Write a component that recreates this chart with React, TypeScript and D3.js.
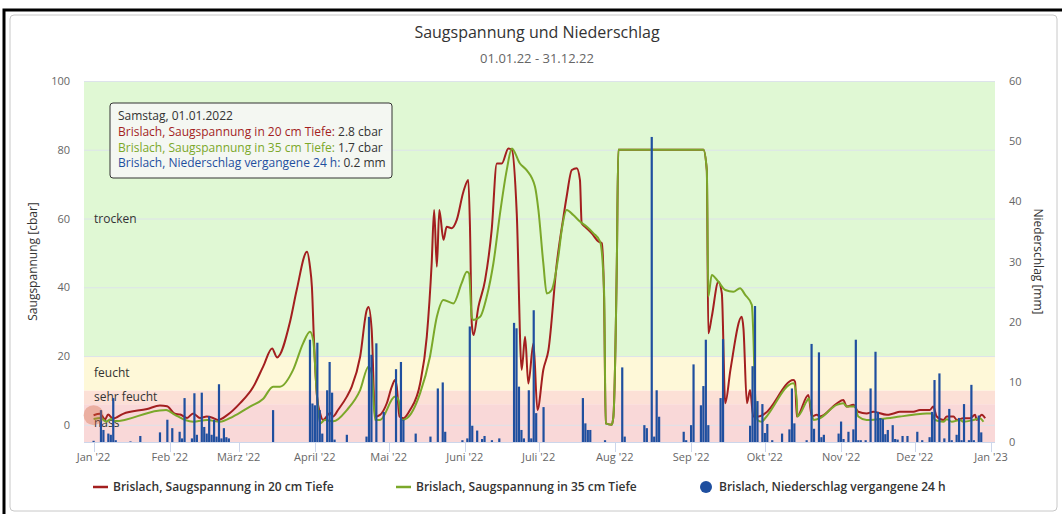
import { useEffect, useRef } from 'react';
import * as d3 from 'd3';

// day offsets from 01.01.2022, values in cbar
const suction20cm: [number, number][] = [
  [0, 2.8], [2.6, 3.2], [4.7, 1.6], [5.9, 3.0], [7.9, 1.8], [12, 3.2], [21.8, 4.6], [27, 5.6],
  [29.9, 5.4], [33.1, 3.2], [35.2, 3.0], [38, 2.0], [40.5, 3.3], [43.3, 2.0], [46, 2.4],
  [48.6, 2.0], [50.6, 1.4], [54.3, 2.8], [59.6, 6.3], [64.9, 11], [69, 17], [72.6, 22.2],
  [74.6, 19.6], [79.9, 30], [82.6, 39.2], [86.8, 50.3], [88, 46], [88.8, 40], [89.6, 25],
  [90.9, 8], [92.1, 3.4], [93.3, 1.4], [96.2, 3.4], [97.4, 2.4], [99.4, 4.3], [103, 8.2],
  [105, 11.1], [108.4, 19.8], [111.1, 33.4], [111.8, 34.3], [113.1, 27.6], [114.5, 2.4],
  [116.5, 2.9], [119.2, 6.2], [121.3, 11.1], [122.6, 13], [123.3, 11.1], [124.4, 2.4],
  [126, 1.9], [128.7, 4.3], [132.8, 12], [135.5, 25.6], [137.5, 47], [138.5, 62.5],
  [139.6, 46], [140.6, 62.5], [142.3, 53.8], [143.6, 57.6], [145.7, 57.2], [147.7, 59.6],
  [150.4, 67.8], [152.4, 71.2], [153.1, 56.7], [153.8, 29.5], [154.5, 26.1], [156.5, 34.3],
  [159.2, 42], [161.9, 56.7], [164, 76], [166, 76], [168.7, 80.4], [170.1, 80], [172.1, 61.5],
  [174.1, 16], [175.5, 25.6], [176.8, 12], [178.9, 23.7], [180.5, 4.3], [182.9, 16], [185, 21.8],
  [188.4, 47], [191.1, 60.5], [192.4, 66.4], [194.5, 74.1], [196.5, 74.6], [197.8, 71.2],
  [198.5, 58.6], [199.9, 57.6], [202.6, 55.7], [205.3, 53.3], [206.7, 52.8], [207.6, 37.3],
  [208.3, 0.4], [210.7, 0], [211.4, 2.4], [212.8, 47], [213.4, 80], [248, 80], [249.4, 74],
  [250, 26.6], [251.4, 31.4], [254.1, 41.6], [255.5, 38.2], [256.9, 6.3], [259, 16],
  [263.6, 31.4], [264.3, 28], [265.7, 6.3], [267, 10.1], [268.3, 2.4], [270.4, 2.4],
  [273.1, 3.3], [284.6, 13], [285.3, 12.5], [286, 2.4], [290.7, 8.7], [292.1, 2.4],
  [294.1, 2.9], [295.4, 2.4], [302.2, 6.2], [304.9, 7.2], [306.3, 5.3], [309, 5.8], [311, 3.8],
  [314.4, 3.3], [317.1, 3.8], [322.6, 2.9], [325.3, 3.3], [327.9, 3.8], [333.4, 3.8],
  [336.1, 4.3], [340.1, 4.3], [341.5, 5.3], [342.9, 2.4], [345.6, 1.4], [347, 2.4],
  [349.7, 2.4], [351.1, 1.4], [353.7, 1.9], [356.5, 1.9], [358.5, 2.9], [359.2, 1.4],
  [361.2, 2.9], [362.6, 1.9],
];

const suction35cm: [number, number][] = [
  [0, 1.7], [3, 2.0], [5.1, 0.9], [7.1, 1.7], [8.6, 1.0], [26.2, 4.1], [29.5, 4.3], [33.1, 2.9],
  [37.2, 1.4], [40.5, 0.9], [46.2, 1.4], [51.4, 0.9], [56.7, 2.4], [63.6, 5.3], [68.9, 7.5],
  [73, 11.1], [75.8, 11.1], [81.1, 15.9], [85.2, 23.7], [88, 27.1], [89.3, 24.7], [90.8, 9],
  [92.1, 0.4], [94.1, 1.4], [97.5, 1.0], [103, 4.3], [108.4, 10.1], [111.8, 16.9], [113.1, 15],
  [114.5, 1.4], [116.5, 1.4], [122.6, 8.2], [124, 7.2], [125.3, 1.4], [127.4, 1.9], [132.8, 9.2],
  [136.8, 19.8], [139.6, 31.4], [142.3, 36.3], [146.3, 35.3], [149.7, 41.2], [151.8, 44.5],
  [152.7, 44], [153.8, 31.4], [154.5, 30.5], [157.2, 31.4], [159.9, 37.3], [162.6, 47],
  [165.3, 61.5], [168, 74], [170.1, 80.4], [173.4, 76], [176.2, 74], [179.5, 69.3], [180.9, 62.5],
  [182.9, 47], [184.3, 38.2], [186.3, 39.2], [189, 48.9], [190.4, 56.7], [192.4, 62.5],
  [195.1, 61], [197.8, 59.1], [200.6, 57.6], [203.3, 55.7], [206, 53.3], [207.6, 39.2],
  [208.3, 0.4], [210.7, 0], [211.4, 2.4], [212.8, 47], [213.4, 80], [248, 80], [249.4, 74],
  [250, 37.3], [251.4, 43.6], [254.1, 41.6], [256.9, 39.2], [260.2, 38.7], [262.9, 39.7],
  [265, 37.8], [267.7, 34.9], [268.3, 26.6], [269, 9.2], [270, 1.4], [271.8, 0.9], [273.1, 1.9],
  [284.6, 12.1], [286, 7.2], [286.2, 2.4], [290.3, 7.2], [290.9, 7.7], [292.8, 1.4], [295.4, 1.9],
  [302.2, 5.8], [304.9, 6.3], [306.3, 5.3], [309.7, 5.3], [311, 2.4], [314.4, 1.4], [322.6, 1.9],
  [327.9, 2.4], [333.4, 2.9], [338.8, 3.3], [340.9, 3.3], [342.2, 1.4], [345.6, 0.9], [347, 1.6],
  [349, 0.9], [352.4, 1.4], [353.7, 0.9], [357.8, 1.4], [360.4, 1.9], [361.9, 0.9],
];

// rain per day in mm
const rainDays = [
  0, 3, 4, 6, 7, 8, 9, 15, 19, 27, 30, 32, 35, 36, 37, 40, 41, 42, 44, 45, 46, 47, 48, 49, 50, 51,
  52, 53, 54, 55, 73, 88, 89, 90, 91, 92, 93, 95, 96, 97, 98, 103, 111, 112, 113, 115, 118, 123,
  125, 126, 131, 137, 140, 142, 143, 150, 152, 153, 154, 156, 158, 159, 162, 165, 171, 172, 173,
  174, 175, 177, 178, 179, 180, 183, 199, 200, 201, 202, 208, 215, 216, 224, 225, 227, 228, 229,
  230, 240, 241, 243, 244, 247, 248, 249, 250, 255, 256, 267, 268, 269, 270, 272, 273, 274, 276,
  280, 283, 284, 285, 290, 292, 293, 295, 296, 297, 303, 304, 305, 307, 309, 310, 311, 312, 314,
  316, 318, 319, 320, 321, 322, 323, 325, 326, 327, 329, 331, 335, 337, 340, 341, 342, 344, 346,
  348, 349, 351, 352, 353, 354, 356, 357, 358, 360, 361,
];
const rainMm = [
  0.2, 5.3, 2.0, 1.4, 1.2, 7.3, 0.3, 0.1, 1.0, 1.6, 3.7, 2.3, 1.7, 0.6, 7.3, 0.6, 8.1, 1.2, 8.2,
  2.5, 1.4, 4.3, 1.2, 3.7, 0.9, 9.6, 0.6, 2.3, 0.8, 0.6, 5.3, 17, 6.4, 6.1, 16.5, 5.3, 1.4, 8.6,
  13.3, 8.2, 0.4, 1.2, 0.9, 20.8, 14.5, 16.4, 5, 12.1, 13.3, 3.7, 1.4, 0.9, 8.9, 9.9, 1.7, 0.3,
  0.6, 19.2, 2.7, 1.9, 0.5, 1.0, 0.3, 0.6, 19.8, 18.9, 9.2, 2, 0.6, 8.6, 0.6, 21.9, 4.8, 5.8, 7.3,
  3.1, 2, 2, 0.3, 12.4, 0.9, 2.8, 2.3, 50.7, 0.9, 8.6, 4.2, 1.7, 0.3, 2.8, 12.9, 6.1, 9.3, 17, 2.8,
  7.3, 17.1, 2.7, 12.6, 22.6, 6.8, 6.3, 1.5, 3, 0.3, 1.4, 2.1, 8.9, 3.1, 0.3, 16.3, 2.2, 14.9, 0.8,
  1.2, 1.4, 3.4, 0.5, 1.7, 2.1, 17, 0.3, 0.3, 0.3, 8.9, 15, 5, 4, 3.8, 1.3, 2, 2.8, 0.5, 0.4, 1.0,
  1.0, 1.7, 0.3, 0.8, 5, 10.3, 11.4, 0.6, 5.5, 0.3, 1.2, 4, 0.3, 6.3, 0.3, 9.5, 0.3, 4.4, 1.6,
];

const monthStartDays = [0, 31, 59, 90, 120, 151, 181, 212, 243, 273, 304, 334, 365];
const monthLabels = ["Jan '22", "Feb '22", "März '22", "April '22", "Mai '22", "Juni '22", "Juli '22", "Aug '22", "Sep '22", "Okt '22", "Nov '22", "Dez '22", "Jan '23"];
const leftTicks = [0, 20, 40, 60, 80, 100];
const rightTicks = [0, 10, 20, 30, 40, 50, 60];
const bandNames = ['nass', 'sehr feucht', 'feucht', 'trocken'];
const bandLimits = [-5, 6, 10, 20, 100];
const seriesNames = [
  'Brislach, Saugspannung in 20 cm Tiefe',
  'Brislach, Saugspannung in 35 cm Tiefe',
  'Brislach, Niederschlag vergangene 24 h',
];

const bandColors = ['#f9d8d8', '#fce0d6', '#fef8d8', '#e0f8d4'];
const RED = '#a31f1f';
const GREEN = '#7ba82a';
const BLUE = '#1f4f9f';
const FONT = "'Open Sans', 'DejaVu Sans', sans-serif";

export default function App() {
  const svgRef = useRef<SVGSVGElement>(null);

  useEffect(() => {
    if (!svgRef.current) return;
    const svg = d3.select(svgRef.current);
    svg.selectAll('*').remove();

    const left = 84, right = 995, top = 81, bottom = 442;

    // frame of the screenshot
    svg.append('rect').attr('x', 10).attr('y', 15).attr('width', 1047).attr('height', 496)
      .attr('rx', 4).attr('fill', '#fff').attr('stroke', '#c8c8c8');
    svg.append('path').attr('d', 'M4,514 L4,10 L1062,10').attr('fill', 'none')
      .attr('stroke', '#000').attr('stroke-width', 3);

    const x = d3.scaleLinear().domain([-3.9, 366.6]).range([left, right]);
    const y = d3.scaleLinear().domain([-5, 100]).range([bottom, top]);
    const yRain = d3.scaleLinear().domain([0, 60]).range([bottom, top]);

    // bands
    bandNames.forEach((name, i) => {
      const y0 = y(bandLimits[i + 1]);
      const y1 = y(bandLimits[i]);
      svg.append('rect').attr('x', left).attr('y', y0).attr('width', right - left)
        .attr('height', y1 - y0).attr('fill', bandColors[i]);
    });

    // grid
    svg.append('g').selectAll('line').data(leftTicks).join('line')
      .attr('x1', left).attr('x2', right)
      .attr('y1', d => y(d) + 0.5).attr('y2', d => y(d) + 0.5)
      .attr('stroke', '#dde3ea').attr('stroke-width', 1);

    bandNames.forEach((name, i) => {
      svg.append('text').attr('x', left + 10)
        .attr('y', y((bandLimits[i] + bandLimits[i + 1]) / 2) + 4)
        .attr('font-family', FONT).attr('font-size', 12).attr('fill', '#333')
        .text(name);
    });

    // x axis
    svg.append('line').attr('x1', left).attr('x2', right).attr('y1', bottom + 0.5).attr('y2', bottom + 0.5)
      .attr('stroke', '#ccd6eb');
    const xt = svg.append('g');
    xt.selectAll('line').data(monthStartDays).join('line')
      .attr('x1', d => Math.round(x(d)) + 0.5).attr('x2', d => Math.round(x(d)) + 0.5)
      .attr('y1', bottom).attr('y2', bottom + 10).attr('stroke', '#ccd6eb');
    xt.selectAll('text').data(monthStartDays).join('text')
      .attr('x', d => x(d)).attr('y', bottom + 19).attr('text-anchor', 'middle')
      .attr('font-family', FONT).attr('font-size', 11).attr('fill', '#666')
      .text((_, i) => monthLabels[i]);

    // y axes
    svg.append('g').selectAll('text').data(leftTicks).join('text')
      .attr('x', 70).attr('y', d => y(d) + 4).attr('text-anchor', 'end')
      .attr('font-family', FONT).attr('font-size', 11).attr('fill', '#666')
      .text(d => d);
    svg.append('g').selectAll('text').data(rightTicks).join('text')
      .attr('x', 1009).attr('y', d => yRain(d) + 4).attr('text-anchor', 'start')
      .attr('font-family', FONT).attr('font-size', 11).attr('fill', '#666')
      .text(d => d);
    svg.append('text').attr('transform', `translate(37,${(top + bottom) / 2}) rotate(-90)`)
      .attr('text-anchor', 'middle').attr('font-family', FONT).attr('font-size', 12)
      .attr('fill', '#333').text('Saugspannung [cbar]');
    svg.append('text').attr('transform', `translate(1034,${(top + bottom) / 2}) rotate(90)`)
      .attr('text-anchor', 'middle').attr('font-family', FONT).attr('font-size', 12)
      .attr('fill', '#333').text('Niederschlag [mm]');

    // titles
    svg.append('text').attr('x', 537).attr('y', 38).attr('text-anchor', 'middle')
      .attr('font-family', FONT).attr('font-size', 16).attr('fill', '#333')
      .text('Saugspannung und Niederschlag');
    svg.append('text').attr('x', 537).attr('y', 63).attr('text-anchor', 'middle')
      .attr('font-family', FONT).attr('font-size', 13).attr('fill', '#666')
      .text('01.01.22 - 31.12.22');

    svg.append('clipPath').attr('id', 'plot-clip').append('rect')
      .attr('x', left).attr('y', top).attr('width', right - left).attr('height', bottom - top);
    const plot = svg.append('g').attr('clip-path', 'url(#plot-clip)');

    const line = d3.line<[number, number]>()
      .x(d => x(d[0]))
      .y(d => y(d[1]))
      .curve(d3.curveMonotoneX);

    plot.append('path').datum(suction20cm).attr('fill', 'none').attr('stroke', RED)
      .attr('stroke-width', 2).attr('stroke-linejoin', 'round').attr('d', line);
    plot.append('path').datum(suction35cm).attr('fill', 'none').attr('stroke', GREEN)
      .attr('stroke-width', 2).attr('stroke-linejoin', 'round').attr('d', line);

    // rain columns
    plot.selectAll('rect.rain').data(rainDays).join('rect').attr('class', 'rain')
      .attr('x', d => x(d) - 1.1).attr('width', 2.2)
      .attr('y', (_, i) => yRain(rainMm[i]))
      .attr('height', (_, i) => bottom - yRain(rainMm[i]))
      .attr('fill', BLUE);

    // hover halo
    svg.append('circle').attr('cx', x(0)).attr('cy', y(suction20cm[0][1]))
      .attr('r', 10).attr('fill', '#d2643c').attr('fill-opacity', 0.35);

    // tooltip
    const tip = svg.append('g').attr('transform', 'translate(110,103)');
    tip.append('rect').attr('width', 282).attr('height', 75).attr('rx', 3)
      .attr('fill', 'rgba(247,247,247,0.85)').attr('stroke', '#333').attr('stroke-width', 1);
    const tipText = tip.append('text').attr('font-family', FONT).attr('font-size', 12).attr('fill', '#333');
    tipText.append('tspan').attr('x', 8).attr('y', 17).text('Samstag, 01.01.2022');
    const rows: [string, string, string][] = [
      [RED, seriesNames[0], `${suction20cm[0][1]} cbar`],
      [GREEN, seriesNames[1], `${suction35cm[0][1]} cbar`],
      [BLUE, seriesNames[2], `${rainMm[0]} mm`],
    ];
    rows.forEach(([c, name, val], i) => {
      tipText.append('tspan').attr('x', 8).attr('y', 33 + i * 15.5).attr('fill', c).text(name + ':');
      tipText.append('tspan').attr('fill', '#333').text(' ' + val);
    });

    // legend
    const legend = [
      { x: 93, color: RED, kind: 'line' },
      { x: 396, color: GREEN, kind: 'line' },
      { x: 700, color: BLUE, kind: 'dot' },
    ];
    legend.forEach((item, i) => {
      const g = svg.append('g').attr('transform', `translate(${item.x},487)`);
      if (item.kind === 'line') {
        g.append('line').attr('x1', 0).attr('x2', 15).attr('stroke', item.color).attr('stroke-width', 2.5);
      } else {
        g.append('circle').attr('cx', 6).attr('r', 6).attr('fill', item.color);
      }
      g.append('text').attr('x', item.kind === 'line' ? 20 : 19).attr('y', 4)
        .attr('font-family', FONT).attr('font-size', 12).attr('font-weight', 600)
        .attr('fill', '#333').text(seriesNames[i]);
    });
  }, []);

  return (
    <svg
      ref={svgRef}
      width={1062}
      height={514}
      style={{ position: 'absolute', left: 0, top: 0, background: '#fff' }}
    />
  );
}
